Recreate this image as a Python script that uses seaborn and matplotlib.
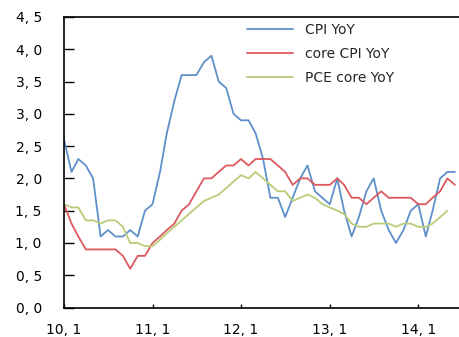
import pandas as pd
import numpy as np
import matplotlib
matplotlib.use("Agg")
import matplotlib.pyplot as plt
import seaborn as sns

# monthly data, 2010.1 - 2014.6
months = pd.date_range("2010-01-01", "2014-06-01", freq="MS")

cpi_yoy = [2.6, 2.1, 2.3, 2.2, 2.0, 1.1, 1.2, 1.1, 1.1, 1.2, 1.1, 1.5,
           1.6, 2.1, 2.7, 3.2, 3.6, 3.6, 3.6, 3.8, 3.9, 3.5, 3.4, 3.0,
           2.9, 2.9, 2.7, 2.3, 1.7, 1.7, 1.4, 1.7, 2.0, 2.2, 1.8, 1.7,
           1.6, 2.0, 1.5, 1.1, 1.4, 1.8, 2.0, 1.5, 1.2, 1.0, 1.2, 1.5,
           1.6, 1.1, 1.5, 2.0, 2.1, 2.1]

core_cpi_yoy = [1.6, 1.3, 1.1, 0.9, 0.9, 0.9, 0.9, 0.9, 0.8, 0.6, 0.8, 0.8,
                1.0, 1.1, 1.2, 1.3, 1.5, 1.6, 1.8, 2.0, 2.0, 2.1, 2.2, 2.2,
                2.3, 2.2, 2.3, 2.3, 2.3, 2.2, 2.1, 1.9, 2.0, 2.0, 1.9, 1.9,
                1.9, 2.0, 1.9, 1.7, 1.7, 1.6, 1.7, 1.8, 1.7, 1.7, 1.7, 1.7,
                1.6, 1.6, 1.7, 1.8, 2.0, 1.9]

pce_core_yoy = [1.6, 1.55, 1.55, 1.35, 1.35, 1.3, 1.35, 1.35, 1.25, 1.0, 1.0, 0.95,
                0.95, 1.05, 1.15, 1.25, 1.35, 1.45, 1.55, 1.65, 1.7, 1.75, 1.85, 1.95,
                2.05, 2.0, 2.1, 2.0, 1.9, 1.8, 1.8, 1.65, 1.7, 1.75, 1.7, 1.6,
                1.55, 1.5, 1.45, 1.3, 1.25, 1.25, 1.3, 1.3, 1.3, 1.25, 1.3, 1.3,
                1.25, 1.25, 1.3, 1.4, 1.5]

series_names = ["CPI YoY", "core CPI YoY", "PCE core YoY"]
series_colors = ["#5f8fcb", "#dc5a5e", "#b9cc7a"]

y_ticks = [0.0, 0.5, 1.0, 1.5, 2.0, 2.5, 3.0, 3.5, 4.0, 4.5]
y_labels = ["0, 0", "0, 5", "1, 0", "1, 5", "2, 0", "2, 5", "3, 0", "3, 5", "4, 0", "4, 5"]
x_ticks = pd.to_datetime(["2010-01-01", "2011-01-01", "2012-01-01", "2013-01-01", "2014-01-01"])
x_labels = ["10, 1", "11, 1", "12, 1", "13, 1", "14, 1"]


def criaDataFrame():
    partes = []
    for nome, vals in zip(series_names, [cpi_yoy, core_cpi_yoy, pce_core_yoy]):
        partes.append(pd.DataFrame({"mes": months[:len(vals)], "valor": vals, "serie": nome}))
    return pd.concat(partes, ignore_index=True)


def main():
    sns.set_style("white")
    plt.rcParams["font.family"] = ["DejaVu Sans"]

    df = criaDataFrame()

    fig = plt.figure(figsize=(4.6, 3.37), dpi=100)
    ax = fig.add_axes([64 / 460, 29.5 / 337, 396 / 460, 290.5 / 337])

    sns.lineplot(data=df, x="mes", y="valor", hue="serie", hue_order=series_names,
                 palette=series_colors, linewidth=1.3, ax=ax)

    ax.set_xlim(pd.Timestamp("2010-01-01"), pd.Timestamp("2014-06-22"))
    ax.set_ylim(0, 4.5)
    ax.set_yticks(y_ticks)
    ax.set_yticklabels(y_labels)
    ax.set_xticks(x_ticks)
    ax.set_xticklabels(x_labels)
    ax.set_xlabel("")
    ax.set_ylabel("")

    ax.tick_params(axis="y", direction="in", length=7, width=1, pad=16, labelsize=10, colors="black")
    ax.tick_params(axis="x", direction="in", length=3, width=1, pad=11, labelsize=10, colors="black")
    ax.tick_params(left=True, bottom=True)

    for lado in ["left", "bottom", "top"]:
        ax.spines[lado].set_visible(True)
        ax.spines[lado].set_color("black")
        ax.spines[lado].set_linewidth(1.2)
    ax.spines["right"].set_visible(False)

    ax.legend(loc="upper left", bbox_to_anchor=(247 / 460, 1 - 23 / 337),
              bbox_transform=fig.transFigure, frameon=False, fontsize=10,
              handlelength=3.3, handletextpad=0.85, labelspacing=0.72,
              borderpad=0, borderaxespad=0)

    fig.savefig("out.png", dpi=100)


if __name__ == "__main__":
    main()
